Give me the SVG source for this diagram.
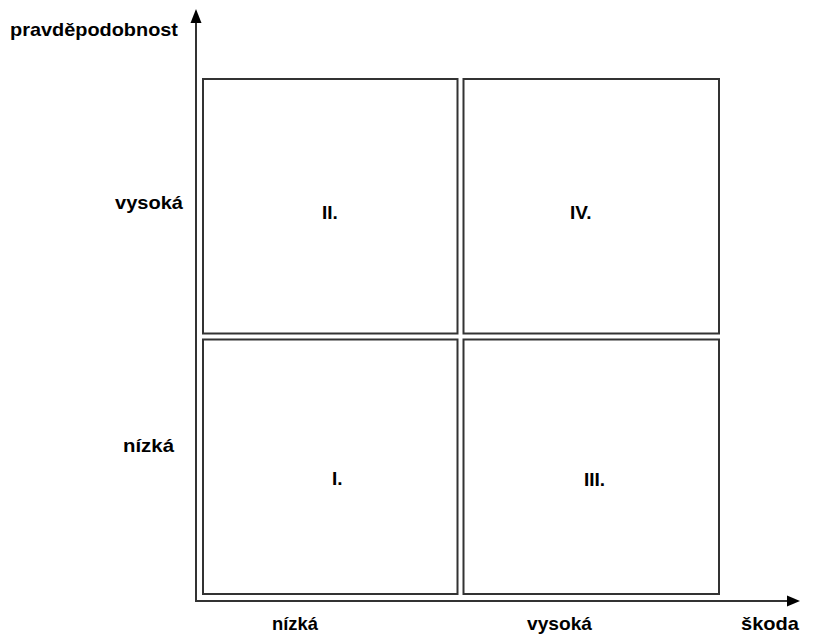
<svg xmlns="http://www.w3.org/2000/svg" width="815" height="635" viewBox="0 0 815 635">
<style>
.box{fill:#fff;stroke:#333;stroke-width:2}
.ax{stroke:#333;stroke-width:2;fill:none}
.ah{fill:#000}
text{font-family:"Liberation Sans",Arial,sans-serif;font-weight:bold;font-size:19px;fill:#000}
</style>
<rect width="815" height="635" fill="#fff"/>
<g id="connectors">
<path class="ax" d="M196,601 V22"/>
<path class="ax" d="M195,601 H788"/>
<polygon class="ah" points="196,9 190.5,23 201.5,23"/>
<polygon class="ah" points="800,601 787,595.5 787,606.5"/>
</g>
<g id="q2"><rect class="box" x="203" y="79" width="254.5" height="254.5"/><text x="322" y="219">II.</text></g>
<g id="q4"><rect class="box" x="463.5" y="79" width="255.5" height="254.5"/><text x="570" y="219">IV.</text></g>
<g id="q1"><rect class="box" x="203" y="339.5" width="254.5" height="254.5"/><text x="332" y="485">I.</text></g>
<g id="q3"><rect class="box" x="463.5" y="339.5" width="255.5" height="254.5"/><text x="584" y="486">III.</text></g>
<g id="labels">
<text x="10" y="36" font-size="18" textLength="168" lengthAdjust="spacingAndGlyphs">pravděpodobnost</text>
<text x="115" y="209" textLength="68" lengthAdjust="spacingAndGlyphs">vysoká</text>
<text x="123" y="452" textLength="51" lengthAdjust="spacingAndGlyphs">nízká</text>
<text x="272" y="630" textLength="46" lengthAdjust="spacingAndGlyphs">nízká</text>
<text x="527" y="630" textLength="65" lengthAdjust="spacingAndGlyphs">vysoká</text>
<text x="741" y="630" textLength="58" lengthAdjust="spacingAndGlyphs">škoda</text>
</g>
</svg>
